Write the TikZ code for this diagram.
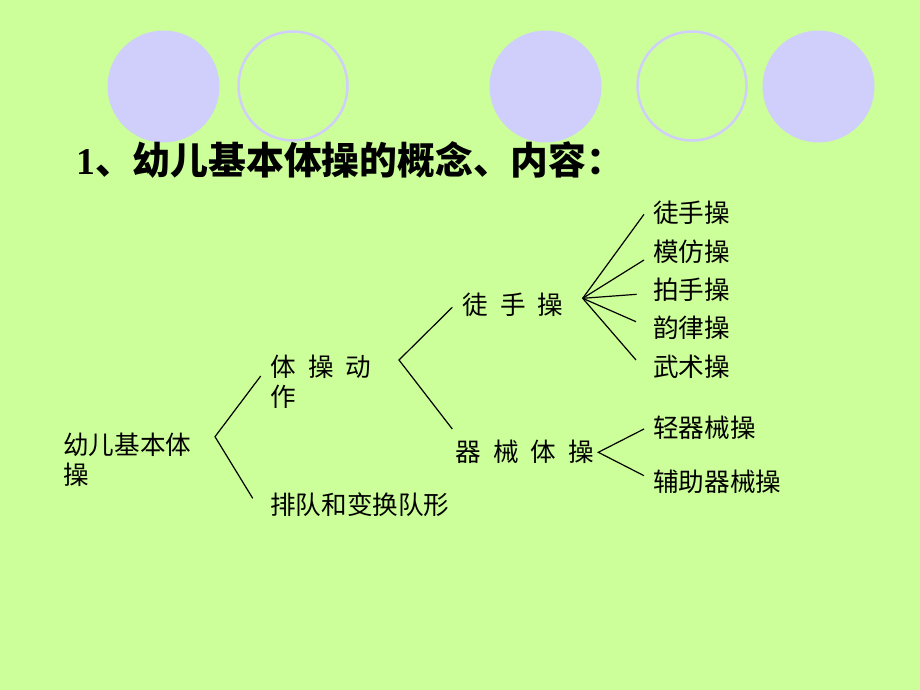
\documentclass[tikz,border=0pt]{standalone}
\usepackage{fontspec}
\newfontfamily\cjk{Noto Sans CJK SC}
\newfontfamily\serifdigit{Liberation Serif}
\definecolor{bggreen}{RGB}{204,255,153}
\definecolor{lav}{RGB}{208,206,250}
\tikzset{
  body/.style={font=\cjk\fontsize{25.6}{30}\selectfont, inner sep=0pt, anchor=west, align=left},
  titletext/.style={font=\cjk\bfseries\fontsize{37.8}{42}\selectfont, inner sep=0pt, anchor=west},
  conn/.style={draw=black, line width=1.2pt},
  disc/.style={fill=lav, draw=none},
  ring/.style={draw=lav, line width=2.5pt}
}
\newcommand{\gp}{\hspace{0.48em}}
\begin{document}
\begin{tikzpicture}[x=1pt,y=-1pt]
\fill[bggreen] (0,0) rectangle (920,690);
\useasboundingbox (0,0) rectangle (920,690);
% circles
\fill[disc] (163.5,86.5) circle (56);
\draw[ring] (293,86) circle (54.5);
\fill[disc] (545.5,86.5) circle (56);
\draw[ring] (692,86) circle (54.5);
\fill[disc] (818.5,86.5) circle (56);
% title
\node[titletext] (title) at (76,160) {{\serifdigit\bfseries 1}、幼儿基本体操的概念、内容：};
% nodes
\node[body] (root) at (63,460) {幼儿基本体\\操};
\node[body] (ticao) at (270,382) {体\gp 操\gp 动\\作};
\node[body] (paidui) at (270,505) {排队和变换队形};
\node[body] (tushou) at (462,305) {徒\gp 手\gp 操};
\node[body] (qixie) at (455,452) {器\gp 械\gp 体\gp 操};
\node[body] (a1) at (653,213) {徒手操};
\node[body] (a2) at (653,252) {模仿操};
\node[body] (a3) at (653,290) {拍手操};
\node[body] (a4) at (653,328) {韵律操};
\node[body] (a5) at (653,367) {武术操};
\node[body] (b1) at (653,428) {轻器械操};
\node[body] (b2) at (653,482) {辅助器械操};
% connector points
\coordinate (r0) at (215,436.7);
\coordinate (r1) at (260.7,376);
\coordinate (r2) at (252.7,498.3);
\coordinate (m0) at (399,360);
\coordinate (m1) at (452.3,307.3);
\coordinate (m2) at (452.3,429);
\coordinate (f0) at (582.7,298.3);
\coordinate (f1) at (644,214.3);
\coordinate (f2) at (644,260);
\coordinate (f3) at (636.7,294.3);
\coordinate (f4) at (636,321.7);
\coordinate (f5) at (636,360);
\coordinate (q0) at (598.3,452.3);
\coordinate (q1) at (644,429);
\coordinate (q2) at (644,475.7);
\draw[conn] (r1) -- (r0) -- (r2);
\draw[conn] (m1) -- (m0) -- (m2);
\draw[conn] (f0) -- (f1);
\draw[conn] (f0) -- (f2);
\draw[conn] (f0) -- (f3);
\draw[conn] (f0) -- (f4);
\draw[conn] (f0) -- (f5);
\draw[conn] (q1) -- (q0) -- (q2);
\end{tikzpicture}
\end{document}
